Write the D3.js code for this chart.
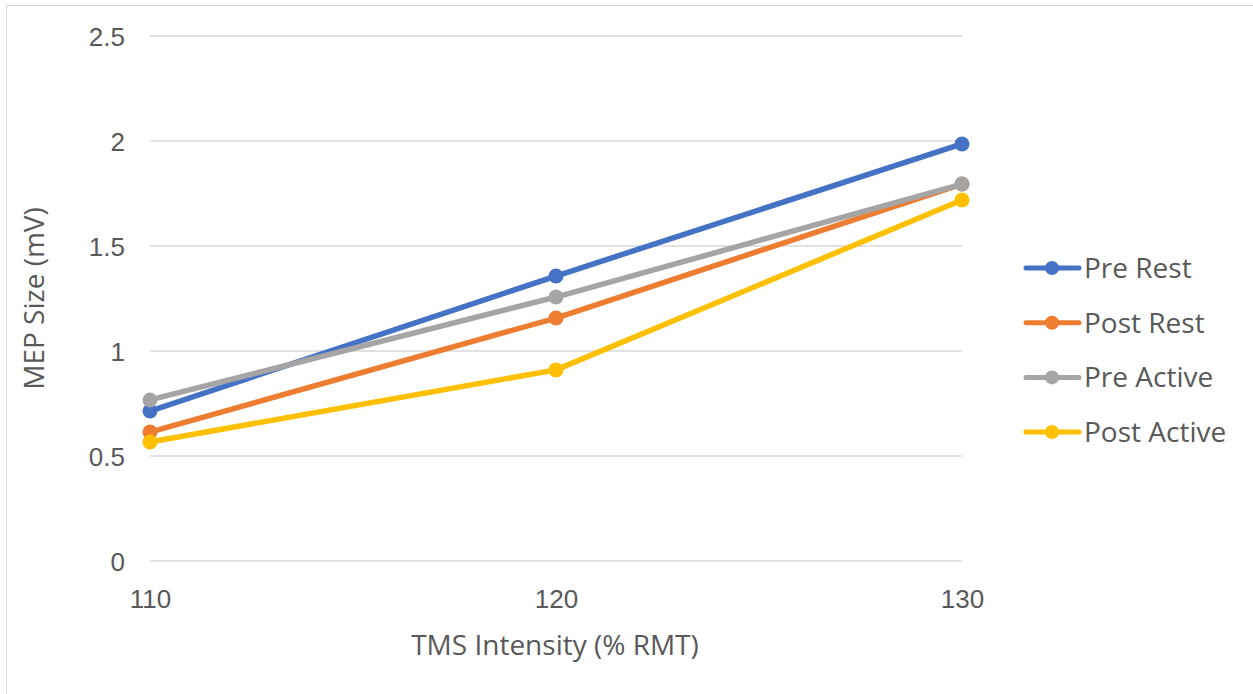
<!DOCTYPE html>
<html>
<head>
<meta charset="utf-8">
<script src="https://cdn.jsdelivr.net/npm/d3@7"></script>
<style>
  html, body { margin: 0; padding: 0; background: #fff; }
  svg { display: block; font-family: "Open Sans", "Liberation Sans", sans-serif; }
</style>
</head>
<body>
<svg id="chart" width="1253" height="694"></svg>
<script>
// TMS intensity levels (% RMT)
const intensities = [110, 120, 130];
const yTicks = [0, 0.5, 1, 1.5, 2, 2.5];

// MEP size (mV) per condition
const preRest    = [0.714, 1.357, 1.986];
const postRest   = [0.614, 1.157, 1.795];
const preActive  = [0.767, 1.257, 1.795];
const postActive = [0.567, 0.910, 1.719];

const seriesNames  = ["Pre Rest", "Post Rest", "Pre Active", "Post Active"];
const seriesValues = [preRest, postRest, preActive, postActive];
const seriesColors = ["#4472c4", "#ed7d31", "#a5a5a5", "#ffc000"];

const svg = d3.select("#chart");
const W = 1253, H = 694;

// outer chart border
svg.append("rect")
  .attr("x", 6.5).attr("y", 5.5)
  .attr("width", W + 10).attr("height", H + 10)
  .attr("fill", "#fff").attr("stroke", "#d9d9d9").attr("stroke-width", 1);

const plot = { left: 150, right: 962, top: 36, bottom: 561 };

const x = d3.scalePoint().domain(intensities).range([plot.left, plot.right]);
const y = d3.scaleLinear().domain([0, 2.5]).range([plot.bottom, plot.top]);

// gridlines
svg.append("g")
  .selectAll("line").data(yTicks).join("line")
  .attr("x1", plot.left).attr("x2", plot.right)
  .attr("y1", d => y(d)).attr("y2", d => y(d))
  .attr("stroke", "#d9d9d9").attr("stroke-width", 1.5);

// y axis labels
const yAxis = d3.axisLeft(y).tickValues(yTicks).tickSize(0).tickPadding(0)
  .tickFormat(d3.format("~g"));
const gy = svg.append("g").attr("transform", `translate(${plot.left - 25},0)`).call(yAxis);
gy.select(".domain").remove();
gy.selectAll("text").attr("fill", "#595959").attr("font-size", 26).attr("dy", "0.35em");

// x axis labels
const xAxis = d3.axisBottom(x).tickSize(0).tickPadding(0);
const gx = svg.append("g").attr("transform", `translate(0,${plot.bottom + 29})`).call(xAxis);
gx.select(".domain").remove();
gx.selectAll("text").attr("fill", "#595959").attr("font-size", 26).attr("dy", "0.71em");

// axis titles
svg.append("text")
  .attr("x", (plot.left + plot.right) / 2 - 1).attr("y", 655)
  .attr("text-anchor", "middle").attr("fill", "#595959").attr("font-size", 28)
  .text("TMS Intensity (% RMT)");
svg.append("text")
  .attr("transform", `translate(44,${(plot.top + plot.bottom) / 2}) rotate(-90)`)
  .attr("text-anchor", "middle").attr("fill", "#595959").attr("font-size", 28)
  .text("MEP Size (mV)");

// series lines and markers
const line = d3.line().x((d, i) => x(intensities[i])).y(d => y(d));
seriesValues.forEach((vals, s) => {
  const g = svg.append("g");
  g.append("path").datum(vals)
    .attr("d", line).attr("fill", "none")
    .attr("stroke", seriesColors[s]).attr("stroke-width", 5.5)
    .attr("stroke-linejoin", "round").attr("stroke-linecap", "round");
  g.selectAll("circle").data(vals).join("circle")
    .attr("cx", (d, i) => x(intensities[i])).attr("cy", d => y(d))
    .attr("r", 7.5).attr("fill", seriesColors[s]);
});

// legend
const legendTop = 268, legendStep = 54.7;
seriesNames.forEach((name, s) => {
  const ly = legendTop + s * legendStep;
  const g = svg.append("g");
  g.append("line").attr("x1", 1026).attr("x2", 1079).attr("y1", ly).attr("y2", ly)
    .attr("stroke", seriesColors[s]).attr("stroke-width", 5).attr("stroke-linecap", "round");
  g.append("circle").attr("cx", 1052).attr("cy", ly).attr("r", 7).attr("fill", seriesColors[s]);
  g.append("text").attr("x", 1084).attr("y", ly).attr("dy", "0.35em")
    .attr("fill", "#595959").attr("font-size", 28).text(name);
});
</script>
</body>
</html>
